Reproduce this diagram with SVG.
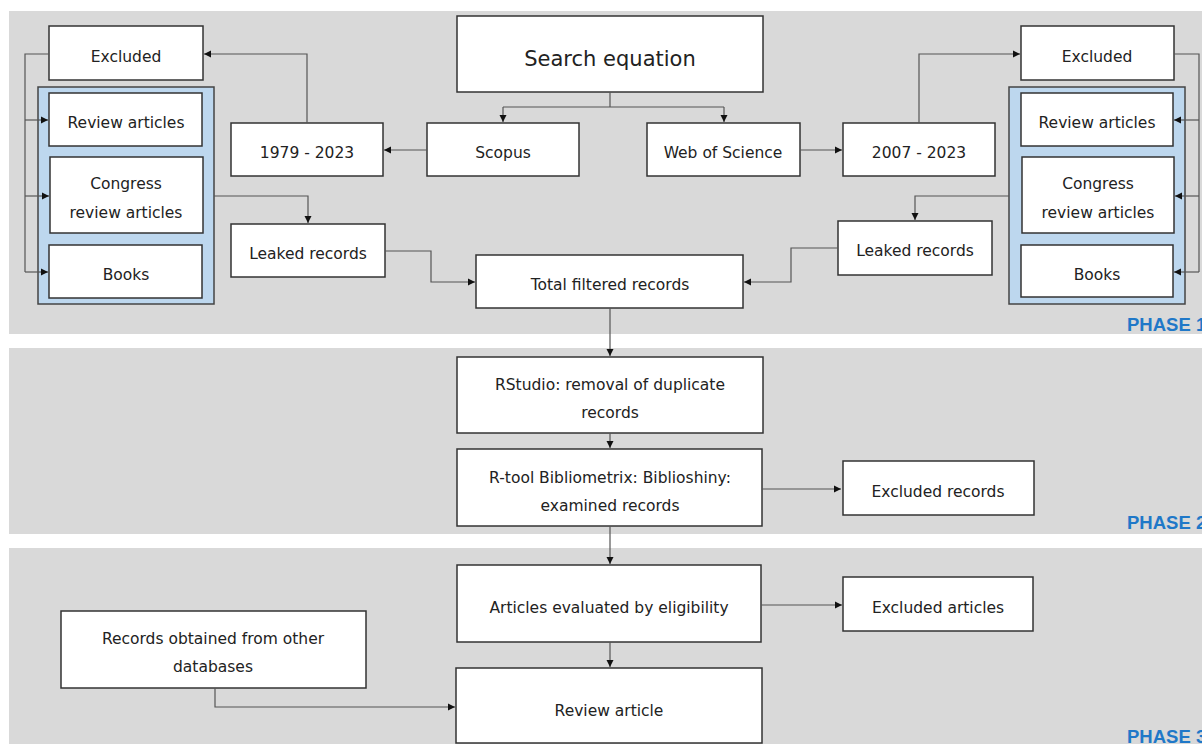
<svg xmlns="http://www.w3.org/2000/svg" width="1202" height="744" viewBox="0 0 1202 744">
<defs>
<marker id="ah" markerWidth="8" markerHeight="8" refX="7" refY="4" orient="auto" markerUnits="userSpaceOnUse">
<path d="M0,0.5 L7,4 L0,7.5 Z" fill="#111"/>
</marker>
<style>
.band{fill:#d9d9d9}
.box{fill:#fff;stroke:#333;stroke-width:1.5}
.grp{fill:#bdd7ee;stroke:#444;stroke-width:1.5}
.t{font-family:"DejaVu Sans",Verdana,sans-serif;font-size:15.5px;fill:#222;text-anchor:middle}
.big{font-size:21px}
.ph{font-family:"Liberation Sans",Arial,sans-serif;font-size:18.5px;font-weight:bold;fill:#1f78c8}
.c{fill:none;stroke:#555;stroke-width:1.2}
</style>
</defs>
<rect width="1202" height="744" fill="#fff"/>
<g id="bands">
<rect class="band" x="9" y="11" width="1193" height="323"/>
<rect class="band" x="9" y="348" width="1193" height="186"/>
<rect class="band" x="9" y="548" width="1193" height="196"/>
<text class="ph" x="1127" y="331">PHASE 1</text>
<text class="ph" x="1127" y="529">PHASE 2</text>
<text class="ph" x="1127" y="743">PHASE 3</text>
</g>
<g id="search-equation"><rect class="box" x="457" y="16" width="306" height="76"/><text class="t big" x="610" y="66">Search equation</text></g>
<g id="scopus"><rect class="box" x="427" y="123" width="152" height="53"/><text class="t" x="503" y="158">Scopus</text></g>
<g id="wos"><rect class="box" x="647" y="123" width="153" height="53"/><text class="t" x="723" y="158">Web of Science</text></g>
<g id="years-left"><rect class="box" x="231" y="123" width="152" height="53"/><text class="t" x="307" y="158">1979 - 2023</text></g>
<g id="years-right"><rect class="box" x="843" y="123" width="152" height="53"/><text class="t" x="919" y="158">2007 - 2023</text></g>
<g id="excluded-left"><rect class="box" x="49" y="26" width="154" height="54"/><text class="t" x="126" y="62">Excluded</text></g>
<g id="excluded-right"><rect class="box" x="1021" y="26" width="153" height="54"/><text class="t" x="1097" y="62">Excluded</text></g>
<g id="group-left">
<rect class="grp" x="38" y="87" width="176" height="217"/>
<g id="review-left"><rect class="box" x="49" y="93" width="153" height="53"/><text class="t" x="126" y="128">Review articles</text></g>
<g id="congress-left"><rect class="box" x="50" y="157" width="153" height="76"/><text class="t" x="126" y="189">Congress</text><text class="t" x="126" y="218">review articles</text></g>
<g id="books-left"><rect class="box" x="49" y="245" width="153" height="53"/><text class="t" x="126" y="280">Books</text></g>
</g>
<g id="group-right">
<rect class="grp" x="1009" y="87" width="176" height="217"/>
<g id="review-right"><rect class="box" x="1021" y="93" width="152" height="53"/><text class="t" x="1097" y="128">Review articles</text></g>
<g id="congress-right"><rect class="box" x="1022" y="157" width="152" height="76"/><text class="t" x="1098" y="189">Congress</text><text class="t" x="1098" y="218">review articles</text></g>
<g id="books-right"><rect class="box" x="1021" y="245" width="152" height="52"/><text class="t" x="1097" y="280">Books</text></g>
</g>
<g id="leaked-left"><rect class="box" x="231" y="224" width="154" height="53"/><text class="t" x="308" y="259">Leaked records</text></g>
<g id="leaked-right"><rect class="box" x="838" y="221" width="154" height="54"/><text class="t" x="915" y="256">Leaked records</text></g>
<g id="total-filtered"><rect class="box" x="476" y="255" width="267" height="53"/><text class="t" x="610" y="290">Total filtered records</text></g>
<g id="rstudio"><rect class="box" x="457" y="357" width="306" height="76"/><text class="t" x="610" y="390">RStudio: removal of duplicate</text><text class="t" x="610" y="418">records</text></g>
<g id="rtool"><rect class="box" x="457" y="449" width="305" height="77"/><text class="t" x="610" y="483">R-tool Bibliometrix: Biblioshiny:</text><text class="t" x="610" y="511">examined records</text></g>
<g id="excluded-records"><rect class="box" x="843" y="461" width="191" height="54"/><text class="t" x="938" y="497">Excluded records</text></g>
<g id="articles-eval"><rect class="box" x="457" y="565" width="304" height="77"/><text class="t" x="609" y="613">Articles evaluated by eligibility</text></g>
<g id="excluded-articles"><rect class="box" x="843" y="577" width="190" height="54"/><text class="t" x="938" y="613">Excluded articles</text></g>
<g id="other-db"><rect class="box" x="61" y="611" width="305" height="77"/><text class="t" x="213" y="644">Records obtained from other</text><text class="t" x="213" y="672">databases</text></g>
<g id="review-article"><rect class="box" x="456" y="668" width="306" height="75"/><text class="t" x="609" y="716">Review article</text></g>
<g id="connectors">
<path class="c" d="M610,92 V107 M503,107 H724"/>
<path class="c" d="M503,107 V122" marker-end="url(#ah)"/>
<path class="c" d="M724,107 V122" marker-end="url(#ah)"/>
<path class="c" d="M427,150 H384" marker-end="url(#ah)"/>
<path class="c" d="M800,150 H842" marker-end="url(#ah)"/>
<path class="c" d="M307,123 V54 H204" marker-end="url(#ah)"/>
<path class="c" d="M919,123 V54 H1020" marker-end="url(#ah)"/>
<path class="c" d="M49,54 H25 V272"/>
<path class="c" d="M25,120 H48" marker-end="url(#ah)"/>
<path class="c" d="M25,196 H49" marker-end="url(#ah)"/>
<path class="c" d="M25,272 H48" marker-end="url(#ah)"/>
<path class="c" d="M1174,54 H1199 V272"/>
<path class="c" d="M1199,120 H1174" marker-end="url(#ah)"/>
<path class="c" d="M1199,196 H1175" marker-end="url(#ah)"/>
<path class="c" d="M1199,272 H1174" marker-end="url(#ah)"/>
<path class="c" d="M214,196 H308 V223" marker-end="url(#ah)"/>
<path class="c" d="M1009,196 H915 V220" marker-end="url(#ah)"/>
<path class="c" d="M385,251 H431 V282 H475" marker-end="url(#ah)"/>
<path class="c" d="M838,248 H791 V282 H744" marker-end="url(#ah)"/>
<path class="c" d="M610,308 V356" marker-end="url(#ah)"/>
<path class="c" d="M610,433 V448" marker-end="url(#ah)"/>
<path class="c" d="M762,489 H841" marker-end="url(#ah)"/>
<path class="c" d="M610,526 V564" marker-end="url(#ah)"/>
<path class="c" d="M761,605 H842" marker-end="url(#ah)"/>
<path class="c" d="M610,642 V667" marker-end="url(#ah)"/>
<path class="c" d="M215,688 V707 H455" marker-end="url(#ah)"/>
</g>
</svg>
